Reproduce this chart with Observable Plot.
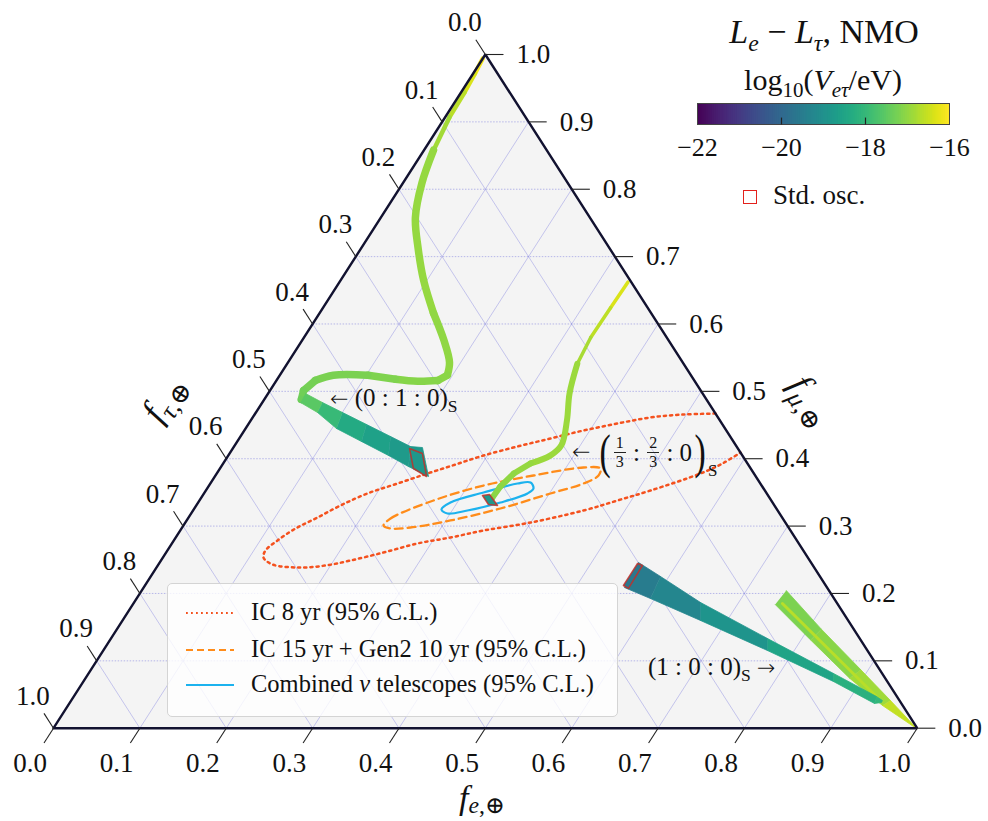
<!DOCTYPE html>
<html><head><meta charset="utf-8">
<script src="https://cdn.jsdelivr.net/npm/d3@7"></script>
<script src="https://cdn.jsdelivr.net/npm/@observablehq/plot@0.6"></script>
<style>
html,body{margin:0;padding:0;background:#fff;}
#wrap{position:relative;width:988px;height:821px;overflow:hidden;font-family:"Liberation Serif","DejaVu Serif",serif;color:#111;}
#wrap svg{position:absolute;}
.t{position:absolute;white-space:nowrap;line-height:1;}
.t sub{font-size:0.7em;vertical-align:-0.32em;line-height:0;}
.ax sub{font-size:0.72em;vertical-align:-0.34em;}
.axb sub{font-size:0.7em;vertical-align:-0.15em;}
.arr{font-family:"DejaVu Sans",sans-serif;font-size:0.88em;font-weight:300;}
.bigp{display:inline-block;font-size:48px;line-height:1;transform:scaleX(0.7);}
.frac{display:inline-flex;flex-direction:column;align-items:center;font-size:16px;line-height:1.1;margin:0 1px;}
.frac span:first-child{border-bottom:1px solid #222;padding:0 2px;}
</style></head><body><div id="wrap"></div>
<script>
// ---------------- data (ternary coordinates: [f_e, f_mu, (log10 V)]) ----------------
const tickValues = [0, 0.1, 0.2, 0.3, 0.4, 0.5, 0.6, 0.7, 0.8, 0.9, 1.0];
const tickLabels = ["0.0","0.1","0.2","0.3","0.4","0.5","0.6","0.7","0.8","0.9","1.0"];
const gridTicks = [0.1, 0.2, 0.3, 0.4, 0.5, 0.6, 0.7, 0.8, 0.9];
const triangle = [[0,0],[1,0],[0,1],[0,0]];
const colorDomain = [-22, -16];
const colorbarTicks = [-22, -20, -18, -16];

// (0:1:0)_S source: thin upper curve and main curve (fe, fmu, log10 V)
const sCurveTop = [
  [0.000,0.994,-16.0],[0.002,0.972,-16.2],[0.004,0.944,-16.5],[0.005,0.907,-16.75],[0.011,0.858,-16.9]
];
const sCurveMain = [
  [0.011,0.858,-16.95],[0.022,0.809,-16.95],[0.040,0.758,-16.95],[0.065,0.714,-16.95],[0.096,0.665,-16.95],
  [0.132,0.616,-17.0],[0.164,0.576,-17.0],[0.187,0.543,-17.0],[0.194,0.524,-17.05],[0.187,0.516,-17.1],
  [0.164,0.515,-17.1],[0.137,0.518,-17.15],[0.102,0.524,-17.2],[0.062,0.524,-17.2],[0.045,0.516,-17.25],
  [0.039,0.501,-17.3],[0.043,0.488,-17.35]
];
// widening band after the turn: [feA, fmuA, feB, fmuB, log10 V]
const leftBand = [
  [0.0434,0.4968,0.0443,0.4834,-17.35],
  [0.0697,0.4834,0.0714,0.4686,-17.7],
  [0.1003,0.4686,0.1053,0.4448,-18.2],
  [0.1370,0.4508,0.1438,0.4256,-18.5],
  [0.1737,0.4330,0.1855,0.4048,-18.7],
  [0.2043,0.4181,0.2168,0.3884,-18.8],
  [0.2189,0.4166,0.2474,0.3736,-18.8]
];
// (1/3:2/3:0)_S source curve
const midTop = [
  [0.334,0.662,-16.2],[0.333,0.624,-16.5],[0.332,0.580,-16.7],[0.336,0.541,-16.85]
];
const midMain = [
  [0.336,0.541,-16.9],[0.349,0.497,-16.9],[0.366,0.457,-16.9],[0.378,0.420,-16.9],[0.373,0.405,-16.9],
  [0.356,0.393,-16.95],[0.344,0.378,-17.0],[0.338,0.359,-17.05],[0.337,0.342,-17.1]
];
// (1:0:0)_S source: teal wedge and green wedge
const rightWedge = [
  [0.5543,0.2460,0.5567,0.2088,-19.6],
  [0.5902,0.2252,0.5949,0.1925,-19.4],
  [0.6558,0.1866,0.6692,0.1599,-19.1],
  [0.7601,0.1331,0.7690,0.1153,-18.7],
  [0.8625,0.0812,0.8684,0.0693,-18.3],
  [0.9293,0.0471,0.9322,0.0367,-18.1],
  [0.9392,0.0411,0.9396,0.0381,-18.0]
];
const greenWedge = [
  [0.7462,0.2044,0.7438,0.1836,-17.2],
  [0.8155,0.1470,0.8110,0.1311,-17.15],
  [0.8915,0.0866,0.8845,0.0743,-17.0],
  [0.9485,0.0411,0.9430,0.0337,-16.7],
  [0.998,0.001,0.997,0.001,-16.4]
];
const greenStrip = [[0.7514,0.1851,-16.7],[0.9369,0.0411,-16.6]];
// standard-oscillation regions (red outlines)
const stdOscLeft  = [[0.2046,0.4152],[0.2233,0.4077],[0.2451,0.3736],[0.2240,0.3855]];
const stdOscMid   = [[0.3240,0.3454],[0.3314,0.3469],[0.3488,0.3306],[0.3376,0.3320]];
const stdOscRight = [[0.5540,0.2118],[0.5540,0.2445],[0.5611,0.2415],[0.5620,0.2074]];
const stdOscValue = [-18.8, -18.8, -19.6];
// 95% C.L. contours
const ic8 = [
  [0.533,0.467],[0.4966,0.4656],[0.4606,0.4612],[0.4269,0.4523],[0.3927,0.4419],[0.3604,0.4300],
  [0.3281,0.4181],[0.2955,0.4048],[0.2697,0.3914],[0.2440,0.3781],[0.2167,0.3632],[0.1893,0.3484],
  [0.1670,0.3306],[0.1493,0.3127],[0.1320,0.2964],[0.1200,0.2786],[0.1136,0.2638],[0.1164,0.2534],
  [0.1321,0.2430],[0.1667,0.2385],[0.1941,0.2415],[0.2194,0.2489],[0.2517,0.2608],[0.2843,0.2742],
  [0.3181,0.2831],[0.3512,0.2934],[0.3996,0.3053],[0.4520,0.3231],[0.4840,0.3380],[0.5148,0.3528],
  [0.5601,0.3781],[0.5781,0.3929],[0.5908,0.4092]
];
const gen2 = [
  [0.2317,0.3009],[0.2346,0.3113],[0.2710,0.3380],[0.3178,0.3602],[0.3682,0.3751],[0.4201,0.3870],
  [0.4405,0.3855],[0.4435,0.3751],[0.4320,0.3632],[0.4012,0.3484],[0.3544,0.3261],[0.3054,0.3083],
  [0.2643,0.2979],[0.2420,0.2964]
];
const combined = [
  [0.2869,0.3246],[0.2921,0.3350],[0.3230,0.3498],[0.3556,0.3632],[0.3700,0.3647],[0.3778,0.3558],
  [0.3746,0.3484],[0.3500,0.3350],[0.3177,0.3231],[0.2969,0.3187]
];

// ---------------- helpers ----------------
const X = p => p[0] + p[1] / 2;
const Y = p => p[1];
function quads(sections, name) {
  const out = [];
  for (let i = 0; i < sections.length - 1; i++) {
    const s = sections[i], t = sections[i + 1], v = (s[4] + t[4]) / 2, id = name + i;
    out.push({id, v, p: [s[0], s[1]]}, {id, v, p: [t[0], t[1]]}, {id, v, p: [t[2], t[3]]}, {id, v, p: [s[2], s[3]]});
  }
  return out;
}
function segs(points) {
  return points.slice(1).map((b, i) => ({a: points[i], b, v: (points[i][2] + b[2]) / 2}));
}
const markers = [stdOscLeft, stdOscMid, stdOscRight].flatMap((m, j) =>
  [...m, m[0]].map(p => ({id: j, v: stdOscValue[j], p})));
const gridH = gridTicks.map(k => ({a: [0, k], b: [1 - k, k]}));
const gridD = gridTicks.flatMap(k => [{a: [k, 0], b: [k, 1 - k]}, {a: [1 - k, 0], b: [0, 1 - k]}]);
const TB = 0.022, TR = 0.021, TLf = 0.022;
const font = "Liberation Serif";
const linkOpts = (w) => ({x1: d => X(d.a), y1: d => Y(d.a), x2: d => X(d.b), y2: d => Y(d.b), stroke: "v", strokeWidth: w, strokeLinecap: "round"});
const smoothOpts = (w, name) => ({x: X, y: Y, z: () => name, stroke: d => d[2], strokeWidth: w, curve: "catmull-rom", strokeLinecap: "round", strokeLinejoin: "round"});

const chart = Plot.plot({
  width: 988, height: 821,
  marginLeft: 53, marginRight: 71.3, marginTop: 54, marginBottom: 93.3,
  x: {domain: [0, 1], axis: null},
  y: {domain: [0, 1], axis: null},
  color: {type: "linear", scheme: "viridis", domain: colorDomain},
  style: {background: "transparent", overflow: "visible"},
  marks: [
    Plot.line(triangle, {x: X, y: Y, fill: "#f4f4f4", stroke: "none"}),
    Plot.link(gridD, {x1: d => X(d.a), y1: d => Y(d.a), x2: d => X(d.b), y2: d => Y(d.b), stroke: "#5a5ad8", strokeOpacity: 0.4, strokeWidth: 0.8}),
    Plot.link(gridH, {x1: d => X(d.a), y1: d => Y(d.a), x2: d => X(d.b), y2: d => Y(d.b), stroke: "#5a5ad8", strokeOpacity: 0.5, strokeWidth: 0.8, strokeDasharray: "1.5,1.5"}),
    // contours
    Plot.line(ic8, {x: X, y: Y, stroke: "#f4511e", strokeWidth: 2.5, strokeDasharray: "2.2,4", curve: "catmull-rom"}),
    Plot.line(gen2, {x: X, y: Y, stroke: "#ff8c1a", strokeWidth: 2.3, strokeDasharray: "8,5", curve: "catmull-rom-closed"}),
    Plot.line(combined, {x: X, y: Y, stroke: "#1cb2ee", strokeWidth: 2.2, curve: "catmull-rom-closed"}),
    // flavor-ratio bands
    Plot.line(quads(greenWedge, "g"), {x: d => X(d.p), y: d => Y(d.p), z: "id", fill: "v", stroke: "v", strokeWidth: 0.8}),
    Plot.link(segs(greenStrip), linkOpts(3)),
    Plot.line(quads(rightWedge, "r"), {x: d => X(d.p), y: d => Y(d.p), z: "id", fill: "v", stroke: "v", strokeWidth: 0.8}),
    Plot.link(segs(sCurveTop), linkOpts(4.5)),
    Plot.line(sCurveMain, smoothOpts(7.5, "s")),
    Plot.line(quads(leftBand, "l"), {x: d => X(d.p), y: d => Y(d.p), z: "id", fill: "v", stroke: "v", strokeWidth: 0.8}),
    Plot.link(segs(midTop), linkOpts(3.5)),
    Plot.line(midMain, smoothOpts(6, "m")),
    Plot.line(markers, {x: d => X(d.p), y: d => Y(d.p), z: "id", fill: "v"}),
    Plot.line(markers, {x: d => X(d.p), y: d => Y(d.p), z: "id", stroke: "#c0302a", strokeWidth: 1.5, strokeOpacity: 0.85}),
    // border
    Plot.line(triangle, {x: X, y: Y, stroke: "#121230", strokeWidth: 2.4, strokeLinejoin: "miter"}),
    // ticks
    Plot.link(tickValues, {x1: k => k, y1: 0, x2: k => k - TB / 2, y2: -TB, stroke: "#222", strokeWidth: 1.1}),
    Plot.link(tickValues, {x1: k => 1 - k / 2, y1: k => k, x2: k => 1 - k / 2 + TR, y2: k => k, stroke: "#222", strokeWidth: 1.1}),
    Plot.link(tickValues, {x1: k => (1 - k) / 2, y1: k => 1 - k, x2: k => (1 - k) / 2 - TLf / 2, y2: k => 1 - k + TLf, stroke: "#222", strokeWidth: 1.1}),
    // tick labels
    Plot.text(tickValues, {x: k => k - 0.027, y: -0.052, text: (d, i) => tickLabels[i], fontSize: 27, fontFamily: font, fill: "#111"}),
    Plot.text(tickValues, {x: k => 1 - k / 2 + 0.036, y: k => k, text: (d, i) => tickLabels[i], textAnchor: "start", fontSize: 27, fontFamily: font, fill: "#111"}),
    Plot.text(tickValues, {x: k => (1 - k) / 2 - 0.02375, y: k => 1 - k + 0.0475, text: (d, i) => tickLabels[i], fontSize: 27, fontFamily: font, fill: "#111"})
  ]
});
const wrap = document.getElementById("wrap");
chart.style.left = "0px"; chart.style.top = "0px";
wrap.appendChild(chart);

// colorbar
const cbCells = d3.range(colorDomain[0], colorDomain[1], 0.05);
const cb = Plot.plot({
  width: 312, height: 61, marginLeft: 30, marginRight: 30, marginTop: 0, marginBottom: 40,
  x: {domain: colorDomain, axis: null},
  y: {domain: [0, 1], axis: null},
  color: {type: "linear", scheme: "viridis", domain: colorDomain},
  style: {background: "transparent", overflow: "visible"},
  marks: [
    Plot.rect(cbCells, {x1: d => d, x2: d => Math.min(d + 0.07, colorDomain[1]), y1: 0, y2: 1, fill: d => d + 0.025}),
    Plot.frame({stroke: "#444", strokeWidth: 1}),
    Plot.link(colorbarTicks.slice(1, -1), {x1: d => d, x2: d => d, y1: 0, y2: 0.33, stroke: "#222", strokeWidth: 1.2}),
    Plot.text(colorbarTicks, {x: d => d, y: 0, dy: 31, text: d => "\u2212" + Math.abs(d), lineAnchor: "bottom", fontSize: 26, fontFamily: font, fill: "#111"})
  ]
});
cb.style.left = "667px"; cb.style.top = "103px";
wrap.appendChild(cb);

// text overlays
function place(html, x, base, size, anchor, cls) {
  const d = document.createElement("div");
  d.className = "t" + (cls ? " " + cls : "");
  d.innerHTML = html;
  d.style.left = x + "px";
  d.style.top = (base - 0.8375 * size) + "px";
  d.style.fontSize = size + "px";
  if (anchor === "middle") d.style.transform = "translateX(-50%)";
  wrap.appendChild(d);
  return d;
}
place("<i>L</i><sub><i>e</i></sub> \u2212 <i>L</i><sub><i>\u03c4</i></sub>, NMO", 824, 43, 34, "middle");
place("log<sub>10</sub>(<i>V</i><sub><i>e\u03c4</i></sub>/eV)", 823, 90, 30, "middle");
const sq = document.createElement("div");
Object.assign(sq.style, {position: "absolute", left: "743px", top: "190px", width: "12px", height: "12px", border: "1.6px solid #e3211c"});
wrap.appendChild(sq);
place("Std. osc.", 773, 205, 27, "start");
place("<span class='arr'>\u2190</span> (0 : 1 : 0)<sub>S</sub>", 330, 406, 25, "start");
place("(1 : 0 : 0)<sub>S</sub> <span class='arr'>\u2192</span>", 648, 675, 25, "start");
// fraction annotation
const a2 = document.createElement("div");
a2.className = "t";
Object.assign(a2.style, {left: "572px", top: "452px", transform: "translateY(-50%)", display: "flex", alignItems: "center", fontSize: "25px"});
a2.innerHTML = "<span class='arr'>\u2190</span><span>&nbsp;</span><span class='bigp'>(</span><span class='frac'><span>1</span><span>3</span></span>&nbsp;:&nbsp;<span class='frac'><span>2</span><span>3</span></span>&nbsp;:&nbsp;0<span class='bigp'>)</span><span style='font-size:17px;align-self:flex-end;margin-bottom:-3px'>S</span>";
wrap.appendChild(a2);
// axis titles
place("<i>f</i><sub><i>e</i>,\u2295</sub>", 459, 809, 34, "start", "axb");
const rot = (html, cx, cy, deg) => {
  const d = document.createElement("div");
  d.className = "t ax";
  d.innerHTML = html;
  Object.assign(d.style, {left: cx + "px", top: cy + "px", fontSize: "36px", transform: `translate(-50%,-50%) rotate(${deg}deg)`});
  wrap.appendChild(d);
};
rot("<i>f</i><sub><i>\u03c4</i>,\u2295</sub>", 163, 398, -57.3);
rot("<i>f</i><sub><i>\u03bc</i>,\u2295</sub>", 812, 400, 57.3);

// legend
const legendItems = ["IC 8 yr (95% C.L.)", "IC 15 yr + Gen2 10 yr (95% C.L.)", "Combined <i>\u03bd</i> telescopes (95% C.L.)"];
const legendStrokes = ["#f4511e", "#ff8c1a", "#1cb2ee"];
const legendDash = ["1.8,3.2", "7,4", "none"];
const lg = document.createElement("div");
Object.assign(lg.style, {position: "absolute", left: "167px", top: "583px", width: "451px", height: "134px", boxSizing: "border-box", background: "rgba(255,255,255,0.8)", border: "1px solid #d4d4d4", borderRadius: "5px"});
wrap.appendChild(lg);
legendItems.forEach((txt, i) => {
  const yLine = [29, 66, 101][i], base = [37, 74, 109][i];
  const s = document.createElementNS("http://www.w3.org/2000/svg", "svg");
  s.setAttribute("width", "50"); s.setAttribute("height", "8");
  Object.assign(s.style, {position: "absolute", left: "17px", top: (yLine - 4) + "px"});
  s.innerHTML = `<line x1="1" y1="4" x2="49" y2="4" stroke="${legendStrokes[i]}" stroke-width="2.2" stroke-dasharray="${legendDash[i]}"/>`;
  lg.appendChild(s);
  const t = document.createElement("div");
  t.className = "t";
  t.innerHTML = txt;
  Object.assign(t.style, {left: "83px", top: (base - 0.8375 * 24.5) + "px", fontSize: "24.5px"});
  lg.appendChild(t);
});
</script></body></html>
